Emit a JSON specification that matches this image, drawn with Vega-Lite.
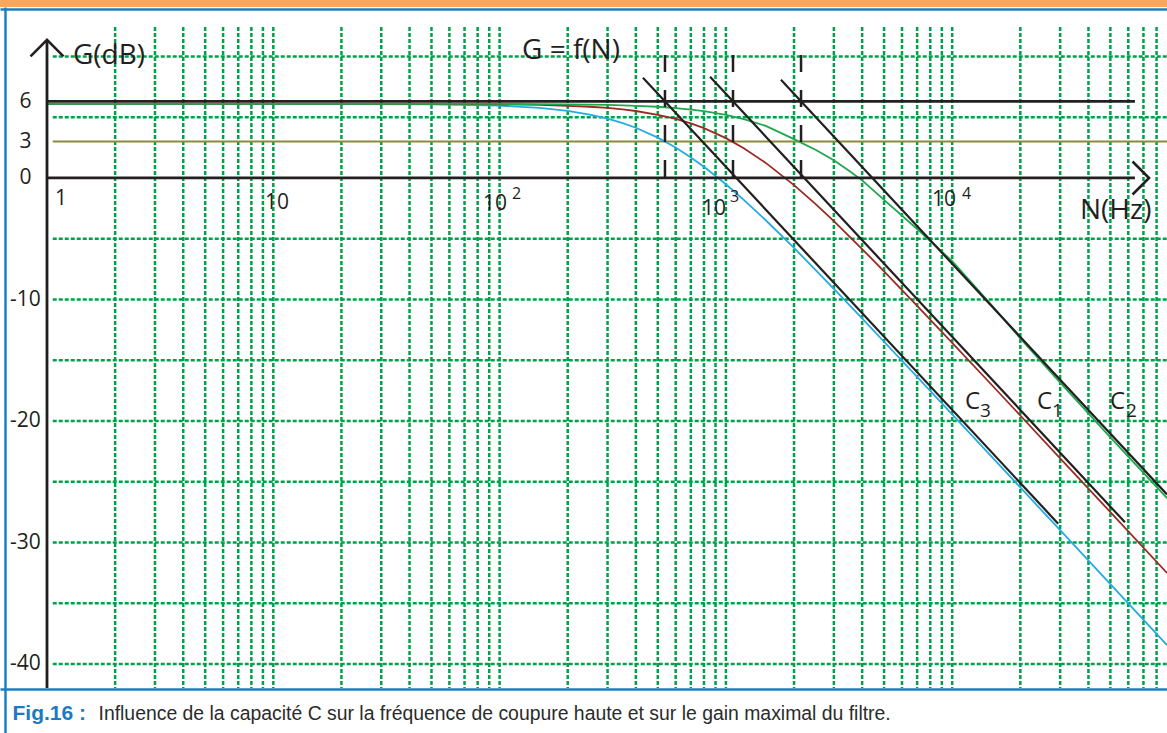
{
  "$schema": "https://vega.github.io/schema/vega-lite/v6.json",
  "width": 1167,
  "height": 726,
  "autosize": "none",
  "padding": {"left": 0, "top": 7, "right": 0, "bottom": 0},
  "background": "#FBA65B",
  "config": {"view": {"fill": "white", "stroke": null}},
  "datasets": {
    "curves": [
      {"N": 1, "G": 6.10, "curve": "C3"}, {"N": 10, "G": 6.10, "curve": "C3"}, {"N": 50, "G": 6.06, "curve": "C3"}, {"N": 100, "G": 5.95, "curve": "C3"}, {"N": 150, "G": 5.76, "curve": "C3"}, {"N": 200, "G": 5.52, "curve": "C3"}, {"N": 250, "G": 5.22, "curve": "C3"}, {"N": 300, "G": 4.89, "curve": "C3"}, {"N": 350, "G": 4.52, "curve": "C3"}, {"N": 400, "G": 4.13, "curve": "C3"}, {"N": 500, "G": 3.32, "curve": "C3"}, {"N": 600, "G": 2.50, "curve": "C3"}, {"N": 700, "G": 1.69, "curve": "C3"}, {"N": 800, "G": 0.92, "curve": "C3"}, {"N": 1000, "G": -0.52, "curve": "C3"}, {"N": 1200, "G": -1.80, "curve": "C3"}, {"N": 1500, "G": -3.48, "curve": "C3"}, {"N": 2000, "G": -5.76, "curve": "C3"}, {"N": 2500, "G": -7.60, "curve": "C3"}, {"N": 3000, "G": -9.12, "curve": "C3"}, {"N": 4000, "G": -11.56, "curve": "C3"}, {"N": 5000, "G": -13.48, "curve": "C3"}, {"N": 7000, "G": -16.37, "curve": "C3"}, {"N": 10000, "G": -19.46, "curve": "C3"}, {"N": 15000, "G": -22.97, "curve": "C3"}, {"N": 20000, "G": -25.47, "curve": "C3"}, {"N": 30000, "G": -28.99, "curve": "C3"}, {"N": 50000, "G": -33.43, "curve": "C3"}, {"N": 88960, "G": -38.44, "curve": "C3"},
      {"N": 1, "G": 6.10, "curve": "C1"}, {"N": 10, "G": 6.10, "curve": "C1"}, {"N": 50, "G": 6.09, "curve": "C1"}, {"N": 100, "G": 6.06, "curve": "C1"}, {"N": 150, "G": 6.01, "curve": "C1"}, {"N": 200, "G": 5.94, "curve": "C1"}, {"N": 250, "G": 5.86, "curve": "C1"}, {"N": 300, "G": 5.76, "curve": "C1"}, {"N": 350, "G": 5.64, "curve": "C1"}, {"N": 400, "G": 5.51, "curve": "C1"}, {"N": 500, "G": 5.20, "curve": "C1"}, {"N": 600, "G": 4.86, "curve": "C1"}, {"N": 700, "G": 4.49, "curve": "C1"}, {"N": 800, "G": 4.10, "curve": "C1"}, {"N": 1000, "G": 3.28, "curve": "C1"}, {"N": 1200, "G": 2.45, "curve": "C1"}, {"N": 1500, "G": 1.24, "curve": "C1"}, {"N": 2000, "G": -0.59, "curve": "C1"}, {"N": 2500, "G": -2.18, "curve": "C1"}, {"N": 3000, "G": -3.56, "curve": "C1"}, {"N": 4000, "G": -5.85, "curve": "C1"}, {"N": 5000, "G": -7.68, "curve": "C1"}, {"N": 7000, "G": -10.52, "curve": "C1"}, {"N": 10000, "G": -13.57, "curve": "C1"}, {"N": 15000, "G": -17.06, "curve": "C1"}, {"N": 20000, "G": -19.55, "curve": "C1"}, {"N": 30000, "G": -23.07, "curve": "C1"}, {"N": 50000, "G": -27.50, "curve": "C1"}, {"N": 88960, "G": -32.51, "curve": "C1"},
      {"N": 1, "G": 6.10, "curve": "C2"}, {"N": 10, "G": 6.10, "curve": "C2"}, {"N": 100, "G": 6.09, "curve": "C2"}, {"N": 150, "G": 6.08, "curve": "C2"}, {"N": 200, "G": 6.06, "curve": "C2"}, {"N": 250, "G": 6.04, "curve": "C2"}, {"N": 300, "G": 6.01, "curve": "C2"}, {"N": 350, "G": 5.98, "curve": "C2"}, {"N": 400, "G": 5.94, "curve": "C2"}, {"N": 500, "G": 5.86, "curve": "C2"}, {"N": 600, "G": 5.75, "curve": "C2"}, {"N": 700, "G": 5.63, "curve": "C2"}, {"N": 800, "G": 5.50, "curve": "C2"}, {"N": 1000, "G": 5.20, "curve": "C2"}, {"N": 1200, "G": 4.85, "curve": "C2"}, {"N": 1500, "G": 4.28, "curve": "C2"}, {"N": 2000, "G": 3.20, "curve": "C2"}, {"N": 2500, "G": 2.30, "curve": "C2"}, {"N": 3000, "G": 1.45, "curve": "C2"}, {"N": 3500, "G": 0.60, "curve": "C2"}, {"N": 4000, "G": -0.20, "curve": "C2"}, {"N": 5000, "G": -1.80, "curve": "C2"}, {"N": 7000, "G": -4.20, "curve": "C2"}, {"N": 10000, "G": -6.85, "curve": "C2"}, {"N": 15000, "G": -10.50, "curve": "C2"}, {"N": 20000, "G": -13.20, "curve": "C2"}, {"N": 30000, "G": -16.85, "curve": "C2"}, {"N": 50000, "G": -21.35, "curve": "C2"}, {"N": 88960, "G": -26.35, "curve": "C2"}
    ],
    "asymptotes": [
      {"N": 430, "G": 8.25, "curve": "C3"}, {"N": 29400, "G": -28.45, "curve": "C3"},
      {"N": 851, "G": 8.33, "curve": "C1"}, {"N": 58000, "G": -28.34, "curve": "C1"},
      {"N": 1751, "G": 8.08, "curve": "C2"}, {"N": 88960, "G": -26.05, "curve": "C2"}
    ],
    "cutoffs": [
      {"N": 538, "Gtop": 10.12, "Gbot": -0.33, "curve": "C3"},
      {"N": 1075, "Gtop": 10.12, "Gbot": -0.33, "curve": "C1"},
      {"N": 2148, "Gtop": 10.12, "Gbot": -0.33, "curve": "C2"}
    ],
    "vgrid": [
      {"N": 2, "Gtop": 12.43, "Gbot": -41.98}, {"N": 3, "Gtop": 12.43, "Gbot": -41.98}, {"N": 4, "Gtop": 12.43, "Gbot": -41.98}, {"N": 5, "Gtop": 12.43, "Gbot": -41.98}, {"N": 6, "Gtop": 12.43, "Gbot": -41.98}, {"N": 7, "Gtop": 12.43, "Gbot": -41.98}, {"N": 8, "Gtop": 12.43, "Gbot": -41.98}, {"N": 9, "Gtop": 12.43, "Gbot": -41.98},
      {"N": 10, "Gtop": 12.43, "Gbot": -41.98}, {"N": 20, "Gtop": 12.43, "Gbot": -41.98}, {"N": 30, "Gtop": 12.43, "Gbot": -41.98}, {"N": 40, "Gtop": 12.43, "Gbot": -41.98}, {"N": 50, "Gtop": 12.43, "Gbot": -41.98}, {"N": 60, "Gtop": 12.43, "Gbot": -41.98}, {"N": 70, "Gtop": 12.43, "Gbot": -41.98}, {"N": 80, "Gtop": 12.43, "Gbot": -41.98}, {"N": 90, "Gtop": 12.43, "Gbot": -41.98},
      {"N": 100, "Gtop": 12.43, "Gbot": -41.98}, {"N": 200, "Gtop": 12.43, "Gbot": -41.98}, {"N": 300, "Gtop": 12.43, "Gbot": -41.98}, {"N": 400, "Gtop": 12.43, "Gbot": -41.98}, {"N": 500, "Gtop": 12.43, "Gbot": -41.98}, {"N": 600, "Gtop": 12.43, "Gbot": -41.98}, {"N": 700, "Gtop": 12.43, "Gbot": -41.98}, {"N": 800, "Gtop": 12.43, "Gbot": -41.98}, {"N": 900, "Gtop": 12.43, "Gbot": -41.98},
      {"N": 1000, "Gtop": 12.43, "Gbot": -41.98}, {"N": 2000, "Gtop": 12.43, "Gbot": -41.98}, {"N": 3000, "Gtop": 12.43, "Gbot": -41.98}, {"N": 4000, "Gtop": 12.43, "Gbot": -41.98}, {"N": 5000, "Gtop": 12.43, "Gbot": -41.98}, {"N": 6000, "Gtop": 12.43, "Gbot": -41.98}, {"N": 7000, "Gtop": 12.43, "Gbot": -41.98}, {"N": 8000, "Gtop": 12.43, "Gbot": -41.98}, {"N": 9000, "Gtop": 12.43, "Gbot": -41.98},
      {"N": 10000, "Gtop": 12.43, "Gbot": -41.98}, {"N": 20000, "Gtop": 12.43, "Gbot": -41.98}, {"N": 30000, "Gtop": 12.43, "Gbot": -41.98}, {"N": 40000, "Gtop": 12.43, "Gbot": -41.98}, {"N": 50000, "Gtop": 12.43, "Gbot": -41.98}, {"N": 60000, "Gtop": 12.43, "Gbot": -41.98}, {"N": 70000, "Gtop": 12.43, "Gbot": -41.98}, {"N": 80000, "Gtop": 12.43, "Gbot": -41.98}
    ],
    "hgrid": [
      {"G": 10, "Nstart": 1.06, "Nend": 88960}, {"G": 5, "Nstart": 1.06, "Nend": 88960}, {"G": -5, "Nstart": 1.06, "Nend": 88960}, {"G": -10, "Nstart": 1.06, "Nend": 88960}, {"G": -15, "Nstart": 1.06, "Nend": 88960},
      {"G": -20, "Nstart": 1.06, "Nend": 88960}, {"G": -25, "Nstart": 1.06, "Nend": 88960}, {"G": -30, "Nstart": 1.06, "Nend": 88960}, {"G": -35, "Nstart": 1.06, "Nend": 88960}, {"G": -40, "Nstart": 1.06, "Nend": 88960}
    ],
    "blacklines": [
      {"G": 6.3, "Nstart": 1, "Nend": 64200, "line": "gain max"},
      {"G": 0, "Nstart": 1, "Nend": 64200, "line": "N axis"}
    ],
    "halfpower": [{"G": 3, "Nstart": 1.06, "Nend": 88960}],
    "gaxis": [{"N": 1, "Gtop": 11.36, "Gbot": -41.98}],
    "arrows": [{"N": 1, "G": 11.36, "dir": "up"}, {"N": 74100, "G": 0, "dir": "right"}],
    "labels": [
      {"text": "G(dB)", "N": 1.303, "G": 10.04, "role": "title"},
      {"text": "G = f(N)", "N": 125.6, "G": 10.41, "role": "title"},
      {"text": "N(Hz)", "N": 36720, "G": -2.72, "role": "title"},
      {"text": "1", "N": 1.085, "G": -1.77, "role": "tick"},
      {"text": "10", "N": 9.19, "G": -2.02, "role": "tick"},
      {"text": "10", "N": 84.5, "G": -2.14, "role": "tick"},
      {"text": "10", "N": 784, "G": -2.55, "role": "tick"},
      {"text": "10", "N": 8147, "G": -1.81, "role": "tick"},
      {"text": "2", "N": 113.4, "G": -1.28, "role": "exp"},
      {"text": "3", "N": 1042, "G": -1.56, "role": "exp"},
      {"text": "4", "N": 11050, "G": -1.32, "role": "exp"},
      {"text": "C", "N": 11390, "G": -18.40, "role": "c"},
      {"text": "C", "N": 23700, "G": -18.40, "role": "c"},
      {"text": "C", "N": 49800, "G": -18.40, "role": "c"},
      {"text": "3", "N": 13280, "G": -19.22, "role": "sub"},
      {"text": "1", "N": 27600, "G": -19.22, "role": "sub"},
      {"text": "2", "N": 58600, "G": -19.22, "role": "sub"}
    ]
  },
  "layer": [
    {
      "data": {"name": "vgrid"},
      "mark": {"type": "rule", "color": "#00A14B", "strokeWidth": 2.5, "strokeDash": [4, 2]},
      "encoding": {
        "x": {"field": "N", "type": "quantitative", "scale": {"type": "log", "domain": [0.6199, 88960], "nice": false}, "axis": null},
        "y": {"field": "Gtop", "type": "quantitative", "scale": {"domain": [-45.68, 14.07], "nice": false, "zero": false}, "axis": null},
        "y2": {"field": "Gbot"}
      }
    },
    {
      "data": {"name": "hgrid"},
      "mark": {"type": "rule", "color": "#00A14B", "strokeWidth": 2.5, "strokeDash": [4, 2]},
      "encoding": {
        "x": {"field": "Nstart", "type": "quantitative", "scale": {"type": "log", "domain": [0.6199, 88960], "nice": false}, "axis": null},
        "x2": {"field": "Nend"},
        "y": {"field": "G", "type": "quantitative", "scale": {"domain": [-45.68, 14.07], "nice": false, "zero": false},
          "axis": {"orient": "left", "offset": -5, "domain": true, "domainColor": "#1A80C4", "domainWidth": 2.5, "ticks": false, "tickSize": 0, "grid": false,
            "values": [-40, -30, -20, -10, 0, 3, 6.3],
            "labelExpr": "datum.value > 6 ? '6' : (datum.value < 0 ? '-' + abs(datum.value) : '' + datum.value)",
            "labelAlign": "center", "labelBaseline": "middle", "labelPadding": -20,
            "labelFont": "Open Sans", "labelFontSize": 21, "labelColor": "#231F20", "labelOverlap": false, "labelFlush": false,
            "title": "Fig.16 :", "titleAngle": 0, "titleX": 7, "titleY": 712, "titleAlign": "left", "titleBaseline": "alphabetic",
            "titleFont": "Liberation Sans", "titleFontSize": 21, "titleFontWeight": "bold", "titleColor": "#1B7BC0"}}
      }
    },
    {
      "data": {"name": "halfpower"},
      "mark": {"type": "rule", "color": "#8C8A3E", "strokeWidth": 2},
      "encoding": {
        "x": {"field": "Nstart", "type": "quantitative", "scale": {"type": "log", "domain": [0.6199, 88960], "nice": false}, "axis": null},
        "x2": {"field": "Nend"},
        "y": {"field": "G", "type": "quantitative", "scale": {"domain": [-45.68, 14.07], "nice": false, "zero": false}, "axis": null}
      }
    },
    {
      "data": {"name": "curves"},
      "mark": {"type": "line", "strokeWidth": 1.8},
      "encoding": {
        "x": {"field": "N", "type": "quantitative", "scale": {"type": "log", "domain": [0.6199, 88960], "nice": false},
          "axis": {"orient": "bottom", "offset": -44, "domain": true, "domainColor": "#1A80C4", "domainWidth": 2.5, "ticks": false, "labels": false, "grid": false,
            "title": "Influence de la capacité C sur la fréquence de coupure haute et sur le gain maximal du filtre.",
            "titleFont": "Liberation Sans", "titleFontSize": 19.4, "titleFontWeight": "normal", "titleColor": "#2B2B2B",
            "titleX": 98, "titleY": 30, "titleAlign": "left", "titleBaseline": "alphabetic"}},
        "y": {"field": "G", "type": "quantitative", "scale": {"domain": [-45.68, 14.07], "nice": false, "zero": false}, "axis": null},
        "color": {"field": "curve", "type": "nominal", "scale": {"domain": ["C3", "C1", "C2"], "range": ["#27AAE1", "#9B2B21", "#1EA84C"]}, "legend": null}
      }
    },
    {
      "data": {"name": "blacklines"},
      "mark": {"type": "rule", "color": "#231F20", "strokeWidth": 2.8},
      "encoding": {
        "x": {"field": "Nstart", "type": "quantitative", "scale": {"type": "log", "domain": [0.6199, 88960], "nice": false}, "axis": null},
        "x2": {"field": "Nend"},
        "y": {"field": "G", "type": "quantitative", "scale": {"domain": [-45.68, 14.07], "nice": false, "zero": false}, "axis": null}
      }
    },
    {
      "data": {"name": "gaxis"},
      "mark": {"type": "rule", "color": "#231F20", "strokeWidth": 2.8},
      "encoding": {
        "x": {"field": "N", "type": "quantitative", "scale": {"type": "log", "domain": [0.6199, 88960], "nice": false}, "axis": null},
        "y": {"field": "Gtop", "type": "quantitative", "scale": {"domain": [-45.68, 14.07], "nice": false, "zero": false}, "axis": null},
        "y2": {"field": "Gbot"}
      }
    },
    {
      "data": {"name": "arrows"},
      "mark": {"type": "point", "filled": false, "color": "#231F20", "strokeWidth": 2.6, "size": 1089, "opacity": 1},
      "encoding": {
        "x": {"field": "N", "type": "quantitative", "scale": {"type": "log", "domain": [0.6199, 88960], "nice": false}, "axis": null},
        "y": {"field": "G", "type": "quantitative", "scale": {"domain": [-45.68, 14.07], "nice": false, "zero": false}, "axis": null},
        "shape": {"field": "dir", "type": "nominal", "scale": {"domain": ["up", "right"], "range": ["M-1,1L0,0L1,1", "M-1,-1L0,0L-1,1"]}, "legend": null}
      }
    },
    {
      "data": {"name": "asymptotes"},
      "mark": {"type": "line", "color": "#231F20", "strokeWidth": 2.2},
      "encoding": {
        "x": {"field": "N", "type": "quantitative", "scale": {"type": "log", "domain": [0.6199, 88960], "nice": false},
          "axis": {"orient": "top", "offset": -2, "domain": true, "domainColor": "#1A80C4", "domainWidth": 2.5, "ticks": false, "labels": false, "grid": false, "title": null}},
        "y": {"field": "G", "type": "quantitative", "scale": {"domain": [-45.68, 14.07], "nice": false, "zero": false}, "axis": null},
        "detail": {"field": "curve", "type": "nominal"}
      }
    },
    {
      "data": {"name": "cutoffs"},
      "mark": {"type": "rule", "color": "#231F20", "strokeWidth": 2.5, "strokeDash": [17, 18]},
      "encoding": {
        "x": {"field": "N", "type": "quantitative", "scale": {"type": "log", "domain": [0.6199, 88960], "nice": false}, "axis": null},
        "y": {"field": "Gtop", "type": "quantitative", "scale": {"domain": [-45.68, 14.07], "nice": false, "zero": false}, "axis": null},
        "y2": {"field": "Gbot"}
      }
    },
    {
      "data": {"name": "labels"},
      "transform": [{"filter": "datum.role === 'title'"}],
      "mark": {"type": "text", "font": "Open Sans", "fontSize": 28, "color": "#231F20", "align": "left", "baseline": "middle"},
      "encoding": {
        "x": {"field": "N", "type": "quantitative", "scale": {"type": "log", "domain": [0.6199, 88960], "nice": false}, "axis": null},
        "y": {"field": "G", "type": "quantitative", "scale": {"domain": [-45.68, 14.07], "nice": false, "zero": false}, "axis": null},
        "text": {"field": "text"}
      }
    },
    {
      "data": {"name": "labels"},
      "transform": [{"filter": "datum.role === 'tick'"}],
      "mark": {"type": "text", "font": "Open Sans", "fontSize": 21, "color": "#231F20", "align": "left", "baseline": "middle"},
      "encoding": {
        "x": {"field": "N", "type": "quantitative", "scale": {"type": "log", "domain": [0.6199, 88960], "nice": false}, "axis": null},
        "y": {"field": "G", "type": "quantitative", "scale": {"domain": [-45.68, 14.07], "nice": false, "zero": false}, "axis": null},
        "text": {"field": "text"}
      }
    },
    {
      "data": {"name": "labels"},
      "transform": [{"filter": "datum.role === 'exp'"}],
      "mark": {"type": "text", "font": "Open Sans", "fontSize": 16, "color": "#231F20", "align": "left", "baseline": "middle"},
      "encoding": {
        "x": {"field": "N", "type": "quantitative", "scale": {"type": "log", "domain": [0.6199, 88960], "nice": false}, "axis": null},
        "y": {"field": "G", "type": "quantitative", "scale": {"domain": [-45.68, 14.07], "nice": false, "zero": false}, "axis": null},
        "text": {"field": "text"}
      }
    },
    {
      "data": {"name": "labels"},
      "transform": [{"filter": "datum.role === 'c'"}],
      "mark": {"type": "text", "font": "Open Sans", "fontSize": 24, "color": "#231F20", "align": "left", "baseline": "middle"},
      "encoding": {
        "x": {"field": "N", "type": "quantitative", "scale": {"type": "log", "domain": [0.6199, 88960], "nice": false}, "axis": null},
        "y": {"field": "G", "type": "quantitative", "scale": {"domain": [-45.68, 14.07], "nice": false, "zero": false}, "axis": null},
        "text": {"field": "text"}
      }
    },
    {
      "data": {"name": "labels"},
      "transform": [{"filter": "datum.role === 'sub'"}],
      "mark": {"type": "text", "font": "Open Sans", "fontSize": 19, "color": "#231F20", "align": "left", "baseline": "middle"},
      "encoding": {
        "x": {"field": "N", "type": "quantitative", "scale": {"type": "log", "domain": [0.6199, 88960], "nice": false}, "axis": null},
        "y": {"field": "G", "type": "quantitative", "scale": {"domain": [-45.68, 14.07], "nice": false, "zero": false}, "axis": null},
        "text": {"field": "text"}
      }
    }
  ],
  "resolve": {"axis": {"x": "independent", "y": "independent"}}
}
